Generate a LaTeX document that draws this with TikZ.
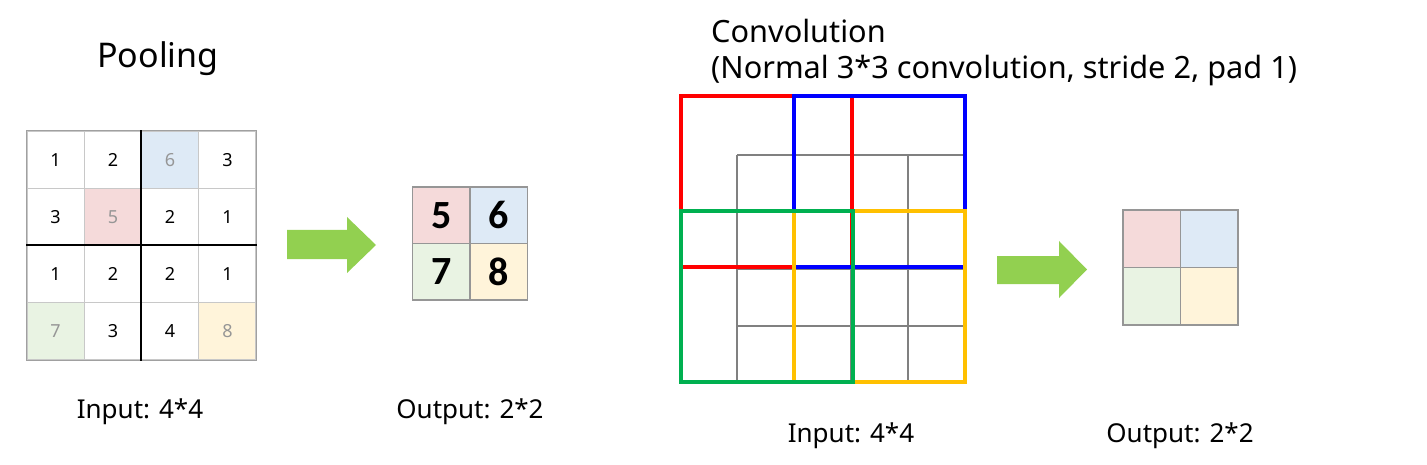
\documentclass[tikz,border=0pt]{standalone}
\usepackage{fontspec}
\setmainfont{Noto Sans}
\newfontfamily\numfont{Carlito}
\definecolor{cpink}{RGB}{245,218,218}
\definecolor{cblue}{RGB}{222,234,246}
\definecolor{cgreen}{RGB}{233,243,227}
\definecolor{cyellow}{RGB}{255,244,218}
\definecolor{lgray}{RGB}{200,200,200}
\definecolor{mgray}{RGB}{160,160,160}
\definecolor{tgray}{RGB}{150,150,150}
\definecolor{ggray}{RGB}{128,128,128}
\definecolor{arrowgreen}{RGB}{146,208,80}
\definecolor{kred}{RGB}{255,0,0}
\definecolor{kblue}{RGB}{0,0,255}
\definecolor{kgreen}{RGB}{0,176,80}
\definecolor{kyellow}{RGB}{255,192,0}
\tikzset{
  cell/.style={draw=lgray, line width=1.2pt, minimum width=57.25pt, minimum height=57.25pt, inner sep=0pt, font=\fontsize{18}{20}\selectfont},
  hl/.style={text=tgray},
  ocell/.style={draw=tgray, line width=1.5pt, minimum width=57.5pt, minimum height=56.5pt, inner sep=0pt, font=\numfont\bfseries\fontsize{40}{44}\selectfont},
  ccell/.style={draw=tgray, line width=1.5pt, minimum width=57.5pt, minimum height=57.5pt, inner sep=0pt},
  label/.style={font=\fontsize{26}{30}\selectfont, anchor=base},
  title/.style={font=\fontsize{30.7}{36}\selectfont, anchor=base west, inner sep=0pt},
  bigarrow/.style={fill=arrowgreen, draw=none},
  kern/.style={line width=4pt},
}
\begin{document}
\begin{tikzpicture}[x=1pt,y=-1pt]
\useasboundingbox (0,0) rectangle (1427,465);
% ---------- Pooling ----------
\node[font=\fontsize{34}{40}\selectfont, anchor=base] (ptitle) at (158,68) {Pooling};
% input grid
\node[cell] (a11) at (55.6,159.6) {1};
\node[cell] (a12) at (112.9,159.6) {2};
\node[cell,fill=cblue,hl] (a13) at (170.1,159.6) {6};
\node[cell] (a14) at (227.4,159.6) {3};
\node[cell] (a21) at (55.6,216.9) {3};
\node[cell,fill=cpink,hl] (a22) at (112.9,216.9) {5};
\node[cell] (a23) at (170.1,216.9) {2};
\node[cell] (a24) at (227.4,216.9) {1};
\node[cell] (a31) at (55.6,274.1) {1};
\node[cell] (a32) at (112.9,274.1) {2};
\node[cell] (a33) at (170.1,274.1) {2};
\node[cell] (a34) at (227.4,274.1) {1};
\node[cell,fill=cgreen,hl] (a41) at (55.6,331.4) {7};
\node[cell] (a42) at (112.9,331.4) {3};
\node[cell] (a43) at (170.1,331.4) {4};
\node[cell,fill=cyellow,hl] (a44) at (227.4,331.4) {8};
\draw[mgray, line width=1.5pt] (a11.north west) rectangle (a44.south east);
\draw[black, line width=1.6pt] (a13.north west) -- (a43.south west);
\draw[black, line width=1.6pt] (a31.north west) -- (a34.north east);
\node[label] (pin) at (140,418) {Input: 4*4};
% arrow 1
\fill[bigarrow] (287,230) -- (347,230) -- (347,217) -- (376,245) -- (347,273) -- (347,259) -- (287,259) -- cycle;
% output grid
\node[ocell,fill=cpink] (b11) at (441.25,215.25) {5};
\node[ocell,fill=cblue] (b12) at (498.75,215.25) {6};
\node[ocell,fill=cgreen] (b21) at (441.25,271.75) {7};
\node[ocell,fill=cyellow] (b22) at (498.75,271.75) {8};
\node[label] (pout) at (470,418) {Output: 2*2};
% ---------- Convolution ----------
\node[title] (ctitle) at (711,43) {Convolution};
\node[title] (csub) at (711,79) {(Normal 3*3 convolution, stride 2, pad 1)};
% gray grid
\foreach \x in {737,794,851,908,965} \draw[ggray, line width=1.5pt] (\x,155) -- (\x,383);
\foreach \y in {155,212,269,326,383} \draw[ggray, line width=1.5pt] (737,\y) -- (965,\y);
\coordinate (rA) at (681,96);  \coordinate (rB) at (852,267);
\coordinate (bA) at (794,96);  \coordinate (bB) at (965,267);
\coordinate (yA) at (794,211); \coordinate (yB) at (965,382);
\coordinate (gA) at (681,211); \coordinate (gB) at (853,382);
\draw[kern, kred] (rA) rectangle (rB);
\draw[kern, kblue] (bA) rectangle (bB);
\draw[kern, kyellow] (yA) rectangle (yB);
\draw[kern, kgreen] (gA) rectangle (gB);
\node[label] (cin) at (851,442) {Input: 4*4};
% arrow 2
\fill[bigarrow] (997,256) -- (1059,256) -- (1059,241) -- (1087,269.5) -- (1059,298) -- (1059,284) -- (997,284) -- cycle;
% conv output grid
\node[ccell,fill=cpink] (c11) at (1151.75,238.75) {};
\node[ccell,fill=cblue] (c12) at (1209.25,238.75) {};
\node[ccell,fill=cgreen] (c21) at (1151.75,296.25) {};
\node[ccell,fill=cyellow] (c22) at (1209.25,296.25) {};
\node[label] (cout) at (1180,442) {Output: 2*2};
\end{tikzpicture}
\end{document}
